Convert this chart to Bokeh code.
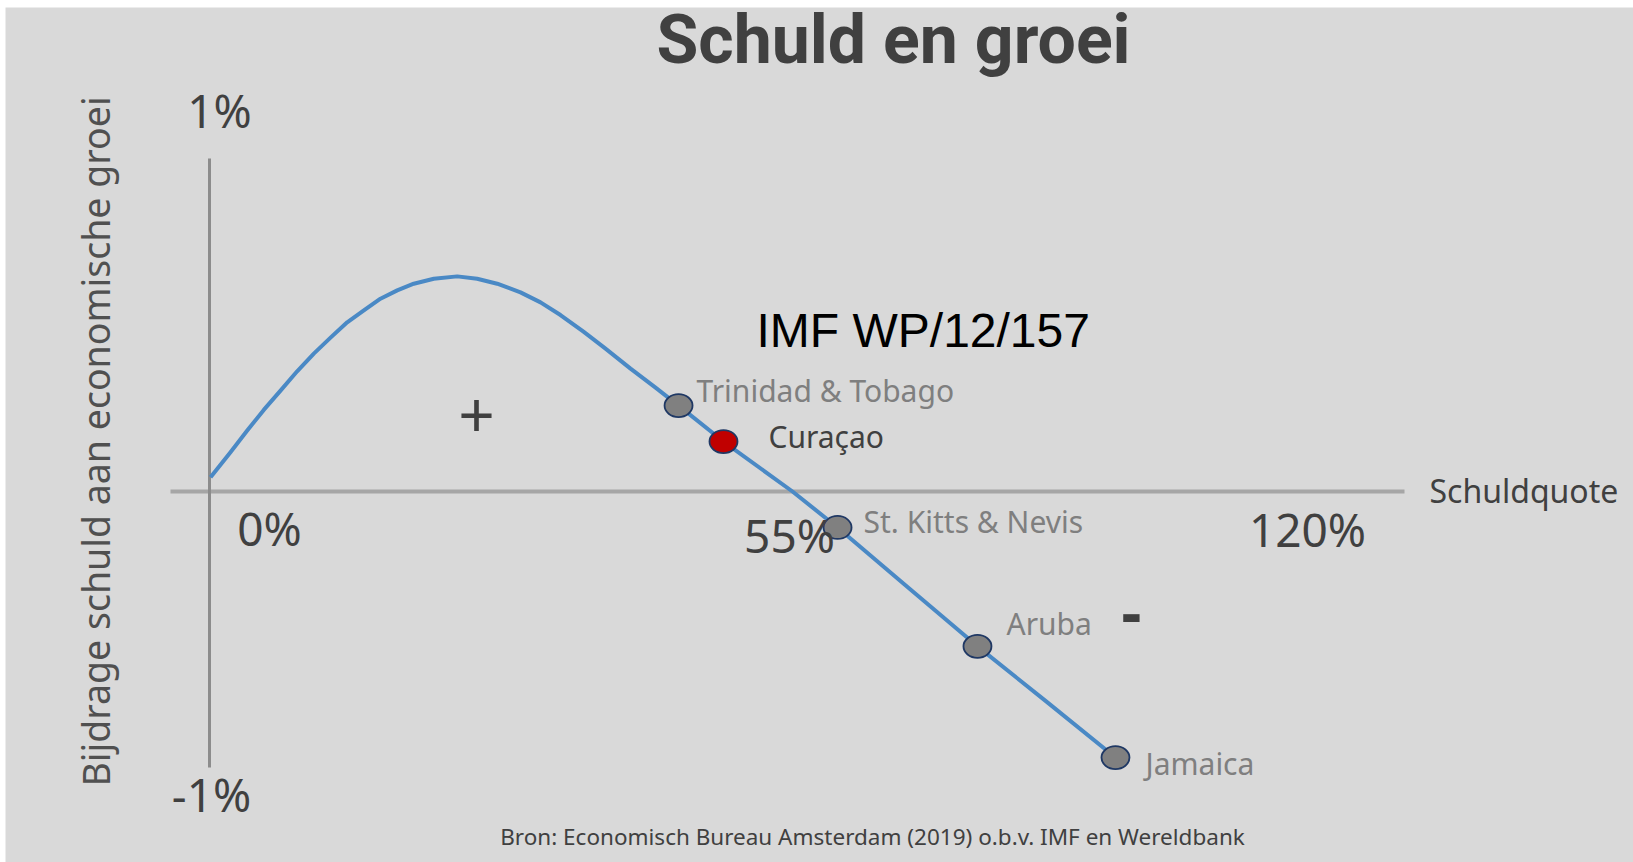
from bokeh.plotting import figure
from bokeh.models import Range1d, Label
from bokeh.core.properties import value
from bokeh.embed import file_html
from bokeh.resources import INLINE
import math

# ---------------- data ----------------
# schematic curve: debt ratio (%) vs contribution of debt to growth (%-points)
curve_x = [0.1, 1.98, 3.56, 5.12, 6.70, 8.27, 9.84, 11.42, 12.99, 14.56, 16.13, 17.71,
           19.27, 21.16, 23.37, 25.25, 27.14, 29.34, 31.23, 33.11, 35.28, 37.36, 39.72,
           42.08, 44.25, 48.49, 55.0, 59.25, 65.85, 72.45, 78.96, 85.47]
curve_y = [0.043, 0.118, 0.183, 0.245, 0.303, 0.361, 0.414, 0.462, 0.508, 0.544, 0.579, 0.604,
           0.624, 0.639, 0.646, 0.639, 0.624, 0.598, 0.568, 0.530, 0.480, 0.429, 0.369,
           0.312, 0.258, 0.150, 0.0, -0.108, -0.287, -0.465, -0.631, -0.799]

countries = ["Trinidad & Tobago", "Curaçao", "St. Kitts & Nevis", "Aruba", "Jamaica"]
country_x = [44.25, 48.49, 59.25, 72.45, 85.47]
country_y = [0.258, 0.150, -0.108, -0.465, -0.799]

x_tick_labels = ["0%", "55%", "120%"]
y_tick_labels = ["1%", "-1%"]

title = "Schuld en groei"
x_title = "Schuldquote"
y_title = "Bijdrage schuld aan economische groei"
annotation = "IMF WP/12/157"
source = "Bron: Economisch Bureau Amsterdam (2019) o.b.v. IMF en Wereldbank"

# ---------------- layout ----------------
W, H = 1633, 862
FRAME_X0, FRAME_Y0 = 5, 7     # white strip at left / top
X0_PX, Y0_PX = 209, 491       # page pixel of the origin
SX, SY = 10.6, 333.0          # pixels per unit
BASE_CORR = 0.4               # baseline correction (em) for svg text placement

def dx(px):
    return (px - X0_PX) / SX

def dy(py):
    return (Y0_PX - py) / SY

BG = "#d9d9d9"
DARK = "#404040"
GRAY_TXT = "#7f7f7f"
FONT = "Noto Sans"

p = figure(width=W, height=H, output_backend="svg", toolbar_location=None,
           x_range=Range1d(dx(FRAME_X0), dx(W)),
           y_range=Range1d(dy(H), dy(FRAME_Y0)),
           min_border=0, min_border_left=FRAME_X0, min_border_right=0,
           min_border_top=FRAME_Y0, min_border_bottom=0)
p.axis.visible = False
p.grid.visible = False
p.outline_line_color = None
p.background_fill_color = BG
p.border_fill_color = "#ffffff"

# axes lines
p.segment(x0=[dx(170)], y0=[0], x1=[dx(1404)], y1=[0], line_color="#a6a6a6", line_width=4)
p.segment(x0=[0], y0=[dy(158)], x1=[0], y1=[dy(767)], line_color="#8c8c8c", line_width=3)

# curve
p.line(curve_x, curve_y, line_color="#4a89c5", line_width=4, line_join="round")

# country markers
fills = ["#c00000" if c == "Curaçao" else "#808080" for c in countries]
p.ellipse(x=country_x, y=country_y, width=28, height=23,
          width_units="screen", height_units="screen",
          fill_color=fills, line_color="#1f3864", line_width=1.8)

# country labels (offsets in pixels from each point)
LAB_SIZE = 30
lab_dx = [18, 45, 26, 29, 30]
lab_dy = [3, -7, -6, 11, -18]   # positive = up (baseline relative to point)
lab_col = [GRAY_TXT, DARK, GRAY_TXT, GRAY_TXT, GRAY_TXT]
p.text(x=[cx + ox / SX for cx, ox in zip(country_x, lab_dx)],
       y=[cy + (oy + BASE_CORR * LAB_SIZE) / SY for cy, oy in zip(country_y, lab_dy)],
       text=countries, text_color=lab_col, text_font=value(FONT),
       text_font_size=f"{LAB_SIZE}px", text_align="left", text_baseline="alphabetic")

def label(txt, px, py, size, color=DARK, align="left", font=FONT, style="normal", angle=0.0):
    if angle:
        px = px - BASE_CORR * size
    else:
        py = py - BASE_CORR * size
    p.add_layout(Label(x=dx(px), y=dy(py), text=txt, text_font=font,
                       text_font_size=f"{size}px", text_color=color, text_align=align,
                       text_baseline="alphabetic", text_font_style=style, angle=angle))

# title
label(title, 893, 67, 68, align="center", style="bold", font="Roboto")
# annotation
label(annotation, 756, 349, 48, color="#000000", font="Liberation Sans")
# axis titles
label(x_title, 1429, 503, 32)
label(y_title, 110, 441, 37.5, color="#505050", align="center", angle=math.pi / 2)
# tick labels
x_tick_pos = [(269, 546), (789, 553), (1307, 547)]
for t, (px, py) in zip(x_tick_labels, x_tick_pos):
    label(t, px, py, 46, align="center")
y_tick_pos = [(219, 128), (211, 812)]
for t, (px, py) in zip(y_tick_labels, y_tick_pos):
    label(t, px, py, 46, align="center")
# plus / minus
label("+", 476, 440, 64, align="center")
label("-", 1131, 637, 62, align="center", style="bold")
# source
label(source, 872, 845, 22.5, align="center")

open("out.html", "w").write(file_html(p, INLINE))
